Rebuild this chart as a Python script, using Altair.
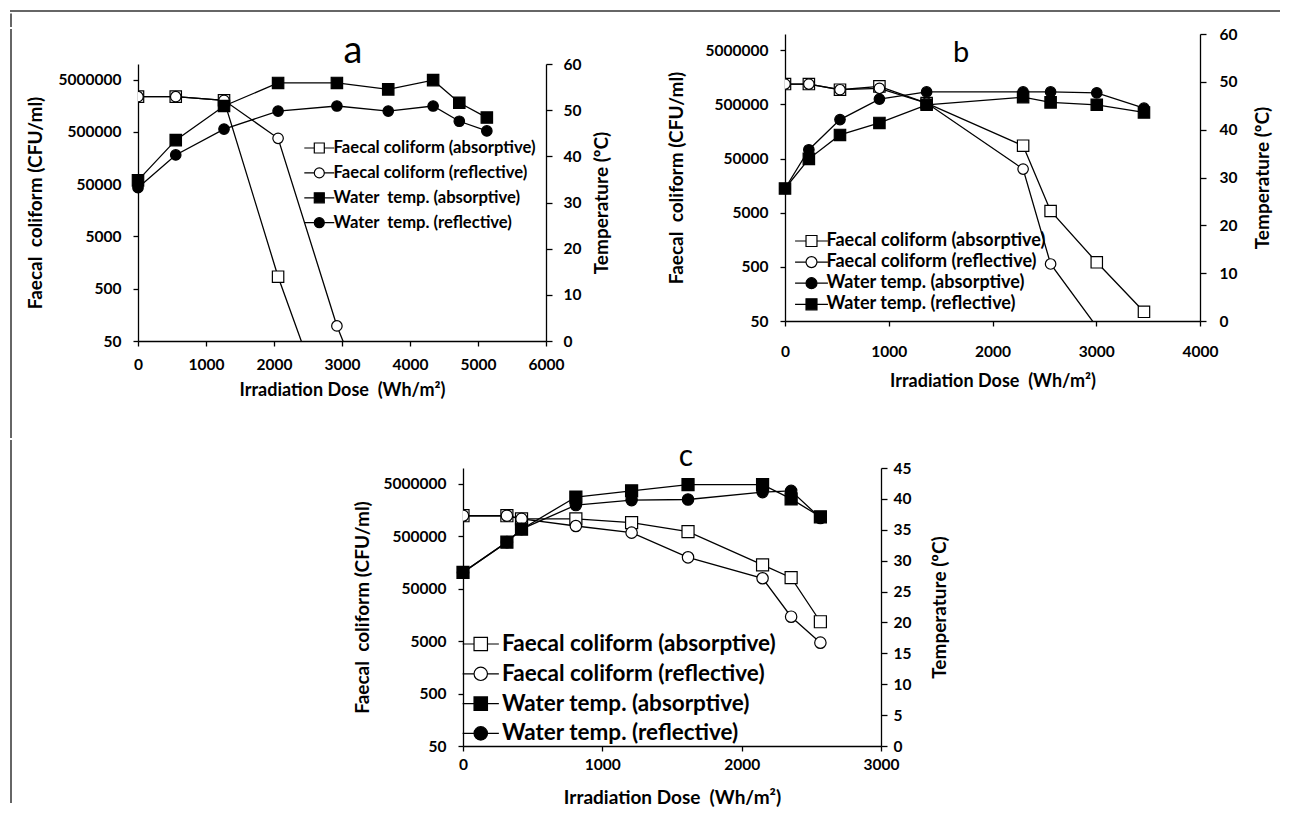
import altair as alt
import pandas as pd

# ---------------- data ----------------
# Panel a
a_dose = [0, 555, 1265, 2060, 2925, 3680, 4340, 4725, 5130]
a_fc_abs_dose = [0, 555, 1265, 2060, 2925]
a_fc_abs = [2370000, 2370000, 2020000, 851, 0.64]
a_fc_ref_dose = [0, 555, 1265, 2060, 2925, 3680]
a_fc_ref = [2370000, 2370000, 2020000, 378000, 97, 0.36]
a_temp_abs = [34.8, 43.5, 50.9, 55.9, 55.9, 54.5, 56.5, 51.6, 48.4]
a_temp_ref = [33.2, 40.3, 45.9, 49.8, 50.9, 49.8, 50.9, 47.6, 45.5]

# Panel b
b_dose = [0, 230, 530, 910, 1365, 2295, 2560, 3005, 3460]
b_fc_abs = [1190000, 1190000, 935000, 1080000, 530000, 86500, 5380, 607, 74]
b_fc_ref_dose = [0, 230, 530, 910, 1365, 2295, 2560, 3005]
b_fc_ref = [1190000, 1190000, 935000, 993000, 530000, 32000, 565, 39]
b_temp_abs = [27.7, 35.8, 42.1, 46.4, 47.9, 47.9, 47.9, 47.7, 44.5]
b_temp_ref = [27.7, 33.9, 38.9, 41.4, 45.2, 46.8, 45.7, 45.2, 43.6]

# Panel c
c_dose = [0, 315, 420, 810, 1210, 1615, 2150, 2355, 2565]
c_fc_abs = [1230000, 1230000, 1070000, 1070000, 907000, 611000, 142000, 81000, 11700]
c_fc_ref = [1230000, 1230000, 1070000, 783000, 585000, 198000, 79000, 14600, 4670]
c_temp_abs = [28.1, 33.0, 35.1, 40.3, 41.3, 42.3, 42.3, 40.0, 37.1]
c_temp_ref = [28.1, 33.0, 35.1, 39.0, 39.8, 39.9, 41.1, 41.3, 36.9]

log_ticks = [50, 500, 5000, 50000, 500000, 5000000]
panel_titles = ["a", "b", "c"]
X_TITLE = "Irradiation Dose\u00a0 (Wh/m²)"
Y_LEFT_TITLE = "Faecal\u00a0 coliform (CFU/ml)"
Y_RIGHT_TITLE = "Temperature (ºC)"
FC_ABS = "Faecal coliform (absorptive)"
FC_REF = "Faecal coliform (reflective)"
WT_ABS_A = "Water\u00a0 temp. (absorptive)"
WT_REF_A = "Water\u00a0 temp. (reflective)"
WT_ABS = "Water temp. (absorptive)"
WT_REF = "Water temp. (reflective)"

FONT = "Lato"
FRAME = "#666666"


def legend_path(kind, reach):
    lines = f"M-{reach},0H-1M1,0H{reach}"
    if kind == "square":
        return lines + "M-1,-1H1V1H-1Z"
    return lines + "M1,0A1,1,0,1,1,-1,0A1,1,0,1,1,1,0Z"


def frame_rule(**enc):
    return alt.Chart(pd.DataFrame({"k": [0]})).mark_rule(
        color=FRAME, strokeWidth=2, strokeCap="square").encode(**enc)


def build_panel(cfg):
    X = alt.X("dose:Q", title=X_TITLE,
              scale=alt.Scale(domain=[0, cfg["xmax"]], nice=False),
              axis=alt.Axis(values=list(range(0, cfg["xmax"] + 1, 1000)), format="d",
                            tickSize=5, labelPadding=cfg["x_lp"], titlePadding=cfg["x_tp"],
                            titleFontSize=cfg["x_tfs"], labelFlush=False))
    YL = alt.Y("val:Q", title=Y_LEFT_TITLE,
               scale=alt.Scale(type="log", domain=[50, 10000000], nice=False),
               axis=alt.Axis(orient="left", values=log_ticks, format="d", tickSize=5,
                             labelPadding=12, titlePadding=cfg["l_tp"],
                             titleFontSize=cfg["l_tfs"]))
    YR = alt.Y("temp:Q", title=Y_RIGHT_TITLE,
               scale=alt.Scale(domain=[0, cfg["tmax"]], nice=False),
               axis=alt.Axis(orient="right",
                             values=list(range(0, cfg["tmax"] + 1, cfg["tstep"])),
                             tickSize=6, labelAlign="left", labelPadding=cfg["r_lp"],
                             titlePadding=cfg["r_tp"], titleFontSize=cfg["r_tfs"],
                             titleAngle=270, titleBaseline="top"))

    msize = {"square": cfg["sq_size"], "circle": cfg["ci_size"]}

    fc_layers = []
    for lab, ds, vs, shape, fill in cfg["fc"]:
        df = pd.DataFrame({"dose": ds, "val": vs, "series": lab})
        fc_layers.append(alt.Chart(df).mark_line(color="black", strokeWidth=1.3, clip=True)
                         .encode(x=X, y=YL))
        fc_layers.append(alt.Chart(df).mark_point(shape=shape, filled=True, fill=fill,
                                                  stroke="black", strokeWidth=1.2,
                                                  size=msize[shape], opacity=1, clip=True)
                         .encode(x=X, y=YL))

    t_layers = []
    for lab, ds, vs, shape, fill in cfg["temp"]:
        df = pd.DataFrame({"dose": ds, "temp": vs, "series": lab})
        t_layers.append(alt.Chart(df).mark_line(color="black", strokeWidth=1.3)
                        .encode(x=X, y=YR))
        t_layers.append(alt.Chart(df).mark_point(shape=shape, filled=True, fill=fill,
                                                 stroke="black", strokeWidth=1.2,
                                                 size=msize[shape], opacity=1)
                        .encode(x=X, y=YR))

    labels = [s[0] for s in cfg["fc"]] + [s[0] for s in cfg["temp"]]
    kinds = [s[3] for s in cfg["fc"]] + [s[3] for s in cfg["temp"]]
    fills = [s[4] for s in cfg["fc"]] + [s[4] for s in cfg["temp"]]
    paths = [legend_path(k, cfg["reach"]) for k in kinds]

    leg = alt.Legend(orient="none", legendX=cfg["lx"], legendY=cfg["ly"],
                     labelFont=FONT, labelFontSize=cfg["lfs"], labelFontWeight="bold",
                     labelColor="black", labelLimit=500, symbolSize=cfg["lsize"],
                     symbolStrokeWidth=1.2, symbolStrokeColor="black", symbolOpacity=1,
                     labelOffset=cfg["loff"], rowPadding=cfg["lrow"], padding=0)
    leg_df = pd.DataFrame({"series": labels,
                           "dose": [cfg["temp"][0][1][0]] * len(labels),
                           "temp": [cfg["temp"][0][2][0]] * len(labels)})
    dummy = alt.Chart(leg_df).mark_point(opacity=0, color="black").encode(
        x=X, y=YR,
        shape=alt.Shape("series:N", title=None, legend=leg,
                        scale=alt.Scale(domain=labels, range=paths)),
        fill=alt.Fill("series:N", title=None, legend=leg,
                      scale=alt.Scale(domain=labels, range=fills)),
        stroke=alt.Stroke("series:N", title=None, legend=leg,
                          scale=alt.Scale(domain=labels, range=["black"] * len(labels))),
    )
    t_layers.append(dummy)

    layers = [alt.layer(*fc_layers), alt.layer(*t_layers)]
    tdf = pd.DataFrame({"t": [cfg["title"]]})
    layers.append(alt.Chart(tdf).mark_text(font=FONT, fontSize=cfg["tfs"], color="black",
                                           align="center", baseline="alphabetic").encode(
        x=alt.value(cfg["tx"]), y=alt.value(cfg["ty"]), text="t:N"))
    if "frame" in cfg:
        y1, y2 = cfg["frame"]
        layers.append(frame_rule(x=alt.value(-127), y=alt.value(y1), y2=alt.value(y2)))

    return alt.layer(*layers).resolve_scale(y="independent").properties(
        width=cfg["w"], height=cfg["h"])


A = build_panel(dict(
    title=panel_titles[0], tfs=38, tx=215, ty=-1, w=408, h=277, xmax=6000, tmax=60, tstep=10,
    x_lp=11.5, x_tp=8, x_tfs=18, l_tp=12.5, l_tfs=19, r_lp=11, r_tp=12, r_tfs=19,
    sq_size=130, ci_size=110,
    fc=[(FC_ABS, a_fc_abs_dose, a_fc_abs, "square", "white"),
        (FC_REF, a_fc_ref_dose, a_fc_ref, "circle", "white")],
    temp=[(WT_ABS_A, a_dose, a_temp_abs, "square", "black"),
          (WT_REF_A, a_dose, a_temp_ref, "circle", "black")],
    lx=173, ly=75.7, lfs=16.6, lrow=7.9, lsize=100, loff=6, reach=3, frame=(-34, 373)))

B = build_panel(dict(
    title=panel_titles[1], tfs=29, tx=176, ty=28, w=415, h=287, xmax=4000, tmax=60, tstep=10,
    x_lp=18.7, x_tp=12, x_tfs=18, l_tp=18.5, l_tfs=19, r_lp=13, r_tp=17, r_tfs=19,
    sq_size=130, ci_size=110,
    fc=[(FC_ABS, b_dose, b_fc_abs, "square", "white"),
        (FC_REF, b_fc_ref_dose, b_fc_ref, "circle", "white")],
    temp=[(WT_ABS, b_dose, b_temp_abs, "circle", "black"),
          (WT_REF, b_dose, b_temp_ref, "square", "black")],
    lx=17.5, ly=198, lfs=18, lrow=3.1, lsize=120, loff=6, reach=3))

C = build_panel(dict(
    title=panel_titles[2], tfs=30, tx=223, ty=-2, w=418, h=278, xmax=3000, tmax=45, tstep=5,
    x_lp=6.7, x_tp=15, x_tfs=19, l_tp=11, l_tfs=19, r_lp=6, r_tp=20, r_tfs=19,
    sq_size=145, ci_size=130,
    fc=[(FC_ABS, c_dose, c_fc_abs, "square", "white"),
        (FC_REF, c_dose, c_fc_ref, "circle", "white")],
    temp=[(WT_ABS, c_dose, c_temp_abs, "square", "black"),
          (WT_REF, c_dose, c_temp_ref, "circle", "black")],
    lx=6.5, ly=164.75, lfs=22.5, lrow=6.8, lsize=180, loff=10, reach=2.7))


def spacer(*rules):
    base = alt.Chart(pd.DataFrame({"v": [0]})).mark_point(size=0, opacity=0).encode(
        x=alt.value(0), y=alt.value(0))
    return alt.layer(base, *rules).properties(width=1, height=1)


def indep(ch):
    return ch.resolve_scale(shape="independent", fill="independent",
                            stroke="independent").resolve_legend(
        shape="independent", fill="independent", stroke="independent")


# figure frame: top line in its own row, left line split over the rows
R0 = spacer(frame_rule(x=alt.value(-127), x2=alt.value(1141), y=alt.value(0)))
spA = spacer(frame_rule(x=alt.value(-127), y=alt.value(-11.5), y2=alt.value(0)))
colA = indep(alt.vconcat(spA, A, spacing=0))
colB = indep(alt.vconcat(spacer(), B, spacing=0))
R1 = indep(alt.hconcat(colA, colB, spacing=55))
spC = spacer(frame_rule(x=alt.value(-127), y=alt.value(-27), y2=alt.value(334)))
R2 = indep(alt.hconcat(spC, C, spacing=214))
chart = indep(alt.vconcat(R0, R1, R2, spacing=0)).properties(
    padding={"left": 1, "top": 1, "right": 0, "bottom": 0}
).configure(font=FONT).configure_view(strokeWidth=0).configure_axis(
    labelFont=FONT, titleFont=FONT, labelFontSize=15.5, labelFontWeight="bold",
    titleFontWeight="bold", labelColor="black", titleColor="black",
    domainColor="black", tickColor="black", domainWidth=1.3, tickWidth=1.3, grid=False)

chart.save("out.html", embed_options={"renderer": "svg", "actions": False})
